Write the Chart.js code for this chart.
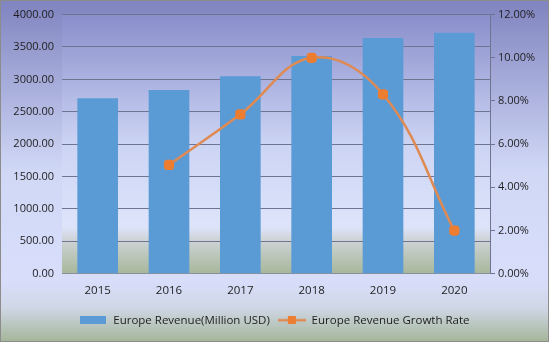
<!DOCTYPE html>
<html lang="en">
<head>
  <meta charset="UTF-8">
  <title>Europe Revenue</title>
  <style>
    html, body { margin: 0; padding: 0; background: #fff; }
    #wrap { width: 549px; height: 342px; position: relative; }
  </style>
  <script src="https://cdn.jsdelivr.net/npm/chart.js"></script>
</head>
<body>
  <div id="wrap"><canvas id="revChart" width="549" height="342"></canvas></div>

  <script>
    const years = ['2015', '2016', '2017', '2018', '2019', '2020'];
    const revenue = [2710, 2835, 3050, 3360, 3640, 3720];
    const growthRate = [null, 5.04, 7.38, 10.0, 8.31, 2.0];

    const barLabel = 'Europe Revenue(Million USD)';
    const lineLabel = 'Europe Revenue Growth Rate';
    const barColor = '#5b9bd5';
    const lineColor = '#df8a52';
    const markerColor = '#ed7d31';
    const textColor = '#1e1e1e';

    Chart.defaults.font.family = "'Open Sans', sans-serif";
    Chart.defaults.font.size = 11;

    // little pictures for the legend entries
    function barSwatch() {
      const c = document.createElement('canvas');
      c.width = 26; c.height = 8;
      const x = c.getContext('2d');
      x.fillStyle = barColor;
      x.fillRect(0, 0, 26, 8);
      return c;
    }
    function lineSwatch() {
      const c = document.createElement('canvas');
      c.width = 28; c.height = 8;
      const x = c.getContext('2d');
      x.strokeStyle = lineColor;
      x.lineWidth = 2.5;
      x.beginPath(); x.moveTo(0, 4); x.lineTo(28, 4); x.stroke();
      x.fillStyle = markerColor;
      x.fillRect(10, 0, 8, 8);
      return c;
    }

    const background = {
      id: 'background',
      beforeDraw(chart) {
        const { ctx, width, height, chartArea: a } = chart;
        ctx.save();
        let g = ctx.createLinearGradient(0, 0, 0, height);
        g.addColorStop(0, '#7f83bf');
        g.addColorStop(0.5, '#d0d8f6');
        g.addColorStop(0.82, '#d8defa');
        g.addColorStop(0.9, '#cfd7e6');
        g.addColorStop(1, '#a4b598');
        ctx.fillStyle = g;
        ctx.fillRect(0, 0, width, height);

        let p = ctx.createLinearGradient(0, a.top, 0, a.bottom);
        p.addColorStop(0, '#8a8ecb');
        p.addColorStop(0.5, '#ccd4f4');
        p.addColorStop(0.82, '#dde4fa');
        p.addColorStop(0.87, '#cdd3d6');
        p.addColorStop(1, '#a7b79a');
        ctx.fillStyle = p;
        ctx.fillRect(a.left, a.top, a.right - a.left, a.bottom - a.top);

        ctx.strokeStyle = '#8c8c8c';
        ctx.lineWidth = 1;
        ctx.strokeRect(0.5, 0.5, width - 1, height - 1);
        ctx.restore();
      }
    };

    const ctx = document.getElementById('revChart').getContext('2d');
    new Chart(ctx, {
      data: {
        labels: years,
        datasets: [
          {
            type: 'bar',
            label: barLabel,
            data: revenue,
            backgroundColor: barColor,
            barPercentage: 0.57,
            categoryPercentage: 1,
            yAxisID: 'y',
            order: 1
          },
          {
            type: 'line',
            label: lineLabel,
            data: growthRate,
            borderColor: lineColor,
            borderWidth: 2.5,
            backgroundColor: markerColor,
            pointBackgroundColor: markerColor,
            pointBorderColor: markerColor,
            pointStyle: 'rectRounded',
            pointRadius: 4.5,
            tension: 0.4,
            spanGaps: false,
            yAxisID: 'y1',
            order: 0
          }
        ]
      },
      options: {
        responsive: false,
        animation: false,
        layout: { padding: { top: 8, bottom: 6, left: 0, right: 0 } },
        scales: {
          x: {
            grid: { display: false },
            border: { display: true, color: '#8a8f9c' },
            ticks: { color: textColor, padding: 2, font: { size: 11.5 } },
            afterFit: s => { s.height += 7; }
          },
          y: {
            position: 'left',
            min: 0,
            max: 4000,
            ticks: {
              stepSize: 500,
              color: textColor,
              padding: 8,
              callback: v => v.toFixed(2)
            },
            grid: { color: '#6e7491', drawTicks: false },
            border: { display: false },
            afterFit: s => { s.width = 62; }
          },
          y1: {
            position: 'right',
            min: 0,
            max: 12,
            ticks: {
              stepSize: 2,
              color: textColor,
              padding: 3,
              callback: v => v.toFixed(2) + '%'
            },
            grid: { drawOnChartArea: false, tickLength: 5, color: '#6e7491' },
            border: { display: true, color: '#6e7491' },
            afterFit: s => { s.width = 59; }
          }
        },
        plugins: {
          tooltip: { enabled: false },
          legend: {
            position: 'bottom',
            labels: {
              color: textColor,
              font: { size: 11.5 },
              usePointStyle: true,
              pointStyleWidth: 28,
              boxHeight: 8,
              padding: 8,
              generateLabels: () => [
                { text: barLabel, pointStyle: barSwatch(), fontColor: textColor, lineWidth: 0, datasetIndex: 0 },
                { text: lineLabel, pointStyle: lineSwatch(), fontColor: textColor, lineWidth: 0, datasetIndex: 1 }
              ]
            }
          }
        }
      },
      plugins: [background]
    });
  </script>
</body>
</html>
